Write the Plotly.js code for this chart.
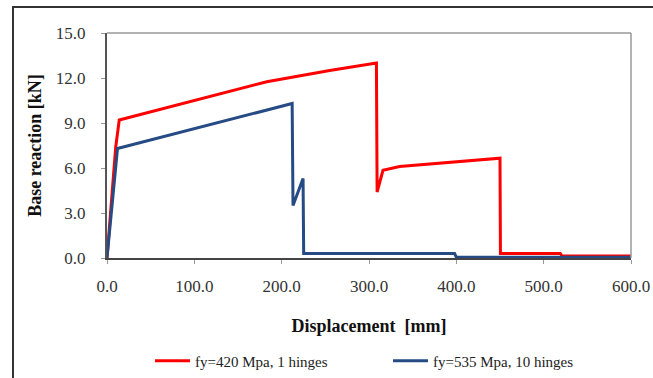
<!DOCTYPE html>
<html>
<head>
<meta charset="utf-8">
<script src="https://cdn.plot.ly/plotly-3.0.1.min.js"></script>
<style>
html,body{margin:0;padding:0;background:#fff;overflow:hidden;}
#chart{width:653px;height:378px;position:absolute;left:0;top:0;}
#frame{position:absolute;left:12px;top:6px;width:700px;height:420px;border:2px solid #333;pointer-events:none;}
</style>
</head>
<body>
<div id="chart"></div>
<div id="frame"></div>
<script>
const redName = "fy=420 Mpa, 1 hinges";
const blueName = "fy=535 Mpa, 10 hinges";
const redX = [0, 10, 14, 183, 255, 308.5, 309.3, 316, 335, 450, 450.5, 519, 521, 600];
const redY = [0, 7.4, 9.2, 11.75, 12.5, 13.0, 4.4, 5.85, 6.1, 6.65, 0.3, 0.3, 0.13, 0.13];
const blueX = [0, 12, 212, 213, 224.5, 225.2, 398, 400, 600];
const blueY = [0, 7.3, 10.3, 3.5, 5.3, 0.3, 0.3, 0.05, 0.05];
const xTicks = [0, 100, 200, 300, 400, 500, 600];
const yTicks = [0, 3, 6, 9, 12, 15];

const font = "'Liberation Serif', 'Times New Roman', serif";
const traces = [
  {x: redX, y: redY, name: redName, type: 'scatter', mode: 'lines',
   line: {color: '#ff0000', width: 3}},
  {x: blueX, y: blueY, name: blueName, type: 'scatter', mode: 'lines',
   line: {color: '#254a84', width: 3}}
];
const layout = {
  width: 653, height: 378,
  margin: {l: 107, r: 22, t: 33, b: 120},
  paper_bgcolor: '#fff', plot_bgcolor: '#fff',
  font: {family: font, color: '#222'},
  showlegend: true,
  legend: {orientation: 'h', xref: 'container', yref: 'container',
           x: 150 / 653, xanchor: 'left', y: 17 / 378, yanchor: 'middle',
           font: {family: font, size: 15, color: '#222'}, itemwidth: 35,
           entrywidth: 188, bgcolor: 'rgba(0,0,0,0)'},
  xaxis: {range: [0, 600], tickvals: xTicks, ticktext: xTicks.map(v => v.toFixed(1)),
          showgrid: false, zeroline: false, showline: true, linecolor: '#444', linewidth: 2,
          ticks: 'outside', ticklen: 4, tickcolor: '#999', tickfont: {size: 17, color: '#333'},
          ticklabelstandoff: 8,
          title: {text: '<b>Displacement  [mm]</b>', font: {size: 18, color: '#111'}, standoff: 24}},
  yaxis: {range: [0, 15], tickvals: yTicks, ticktext: yTicks.map(v => v.toFixed(1)),
          showgrid: false, zeroline: false, showline: true, linecolor: '#555', linewidth: 2,
          ticks: 'outside', ticklen: 4, tickcolor: '#999', tickfont: {size: 17, color: '#333'},
          ticklabelstandoff: 12,
          title: {text: '<b>Base reaction [kN]</b>', font: {size: 18, color: '#111'}, standoff: 10}},
  shapes: [
    {type: 'line', xref: 'paper', yref: 'paper', x0: 0, x1: 1, y0: 1, y1: 1,
     line: {color: '#999', width: 1.5}},
    {type: 'line', xref: 'paper', yref: 'paper', x0: 1, x1: 1, y0: 0, y1: 1,
     line: {color: '#999', width: 1.5}}
  ]
};
Plotly.newPlot('chart', traces, layout, {displayModeBar: false, staticPlot: true});
</script>
</body>
</html>
